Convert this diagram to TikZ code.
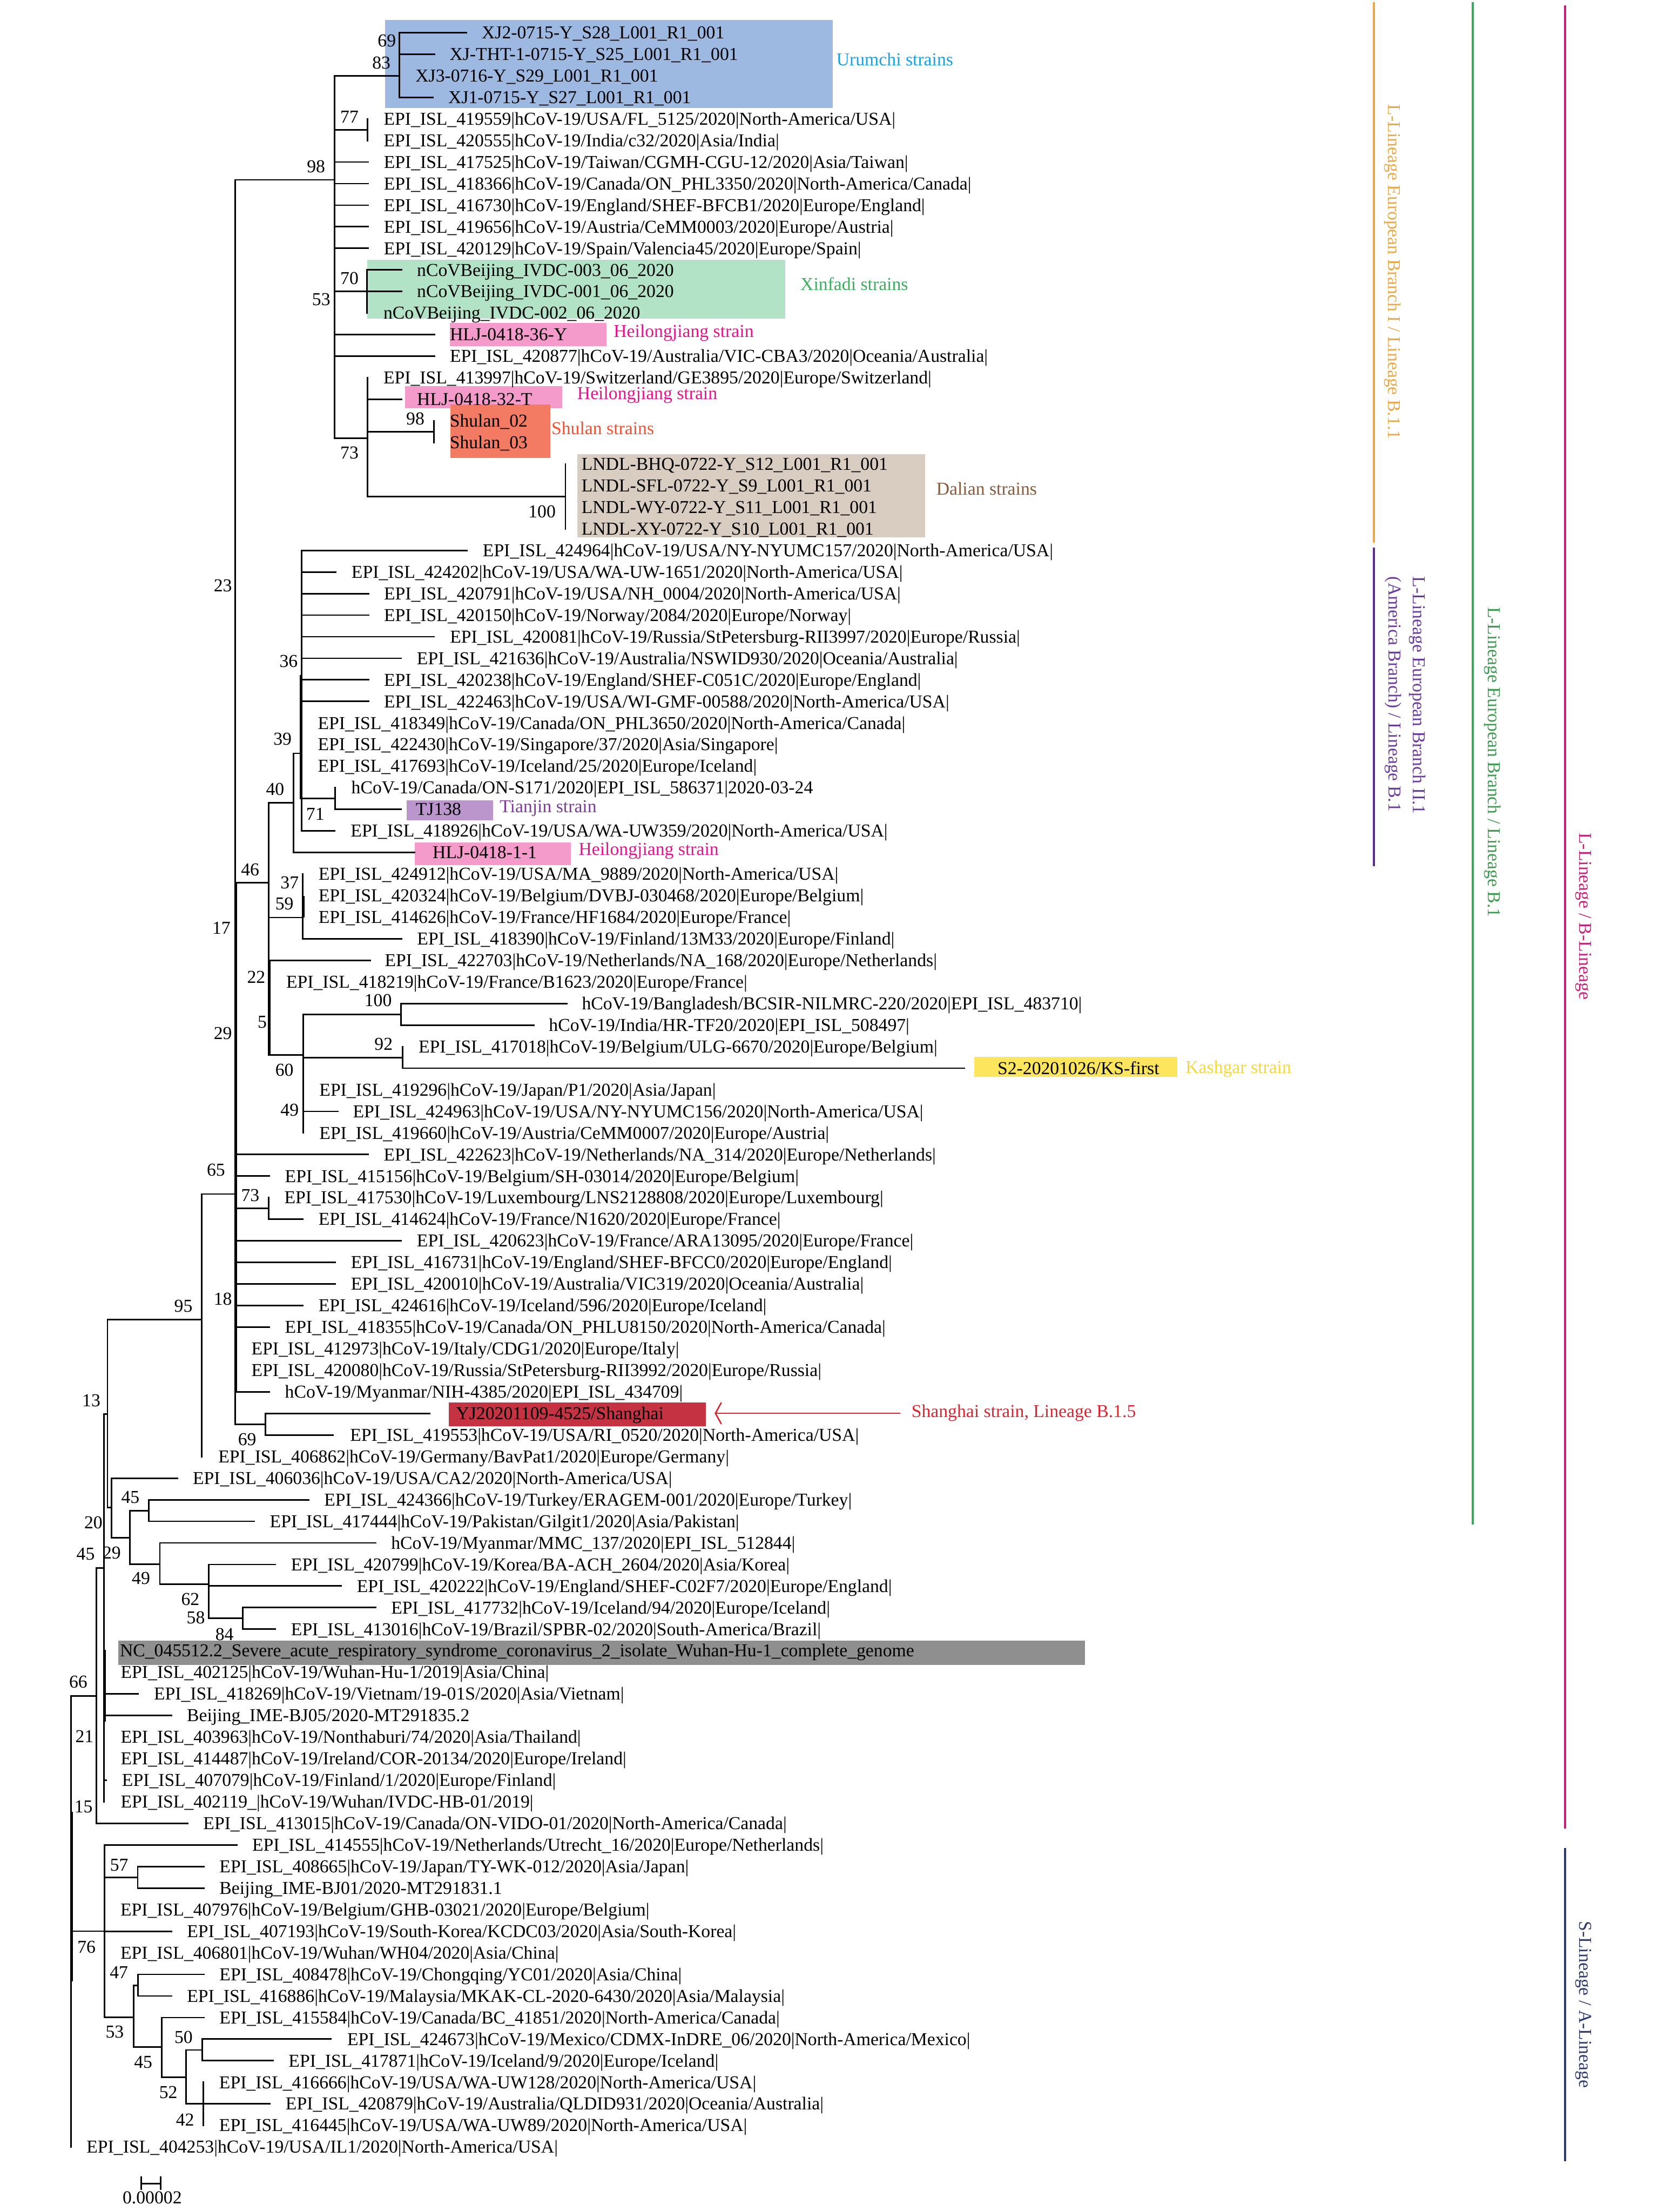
\documentclass[tikz,border=0pt]{standalone}
\usepackage{fontspec}
\setmainfont{Liberation Serif}
\definecolor{urbox}{HTML}{9DB8E1}
\definecolor{urtxt}{HTML}{1BA1DC}
\definecolor{xfbox}{HTML}{B2E3C6}
\definecolor{xftxt}{HTML}{3DAE5E}
\definecolor{hlbox}{HTML}{F59BCB}
\definecolor{hltxt}{HTML}{E2168C}
\definecolor{shbox}{HTML}{F37B63}
\definecolor{shtxt}{HTML}{EE5230}
\definecolor{dlbox}{HTML}{D9CCC1}
\definecolor{dltxt}{HTML}{8A5A3B}
\definecolor{tjbox}{HTML}{BA96CC}
\definecolor{tjtxt}{HTML}{7D3C98}
\definecolor{ksbox}{HTML}{FDE55E}
\definecolor{kstxt}{HTML}{F6D73C}
\definecolor{sgbox}{HTML}{C53343}
\definecolor{sgtxt}{HTML}{DA2532}
\definecolor{gybox}{HTML}{8F8F8F}
\definecolor{orbar}{HTML}{E8A94A}
\definecolor{pubar}{HTML}{5E2F8C}
\definecolor{putxt}{HTML}{6C3A9C}
\definecolor{grbar}{HTML}{3EA560}
\definecolor{grtxt}{HTML}{3C9B4E}
\definecolor{mgbar}{HTML}{C2227A}
\definecolor{nvbar}{HTML}{2E3A6E}
\newcommand\fs{\fontsize{12.9}{15}\selectfont}
\newcounter{svc}
\newcommand\Lf[5]{%
  \coordinate (b#1) at (#2,{ly(#1)});%
  \coordinate (e#1) at (#3,{ly(#1)});%
  \ifdim #2pt=#3pt\else\draw[br] (b#1) -- (e#1);\fi
  \node[lf] (L#1) at (#4,{ly(#1)+4.3}) {#5};}
\newcommand\Vt[3]{\draw[br] (#1,#2) -- (#1,#3);}
\newcommand\Hz[3]{\draw[br] (#1,#3) -- (#2,#3);}
\newcommand\SV[3]{\stepcounter{svc}\node[sv] (sv\arabic{svc}) at (#1,#2) {#3};}
\begin{document}
\begin{tikzpicture}[x=1pt,y=-1pt,
  declare function={ly(\n)=23.1+15.294*(\n-1);},
  br/.style={line width=1.1pt, line cap=rect},
  lf/.style={anchor=base west, inner sep=0pt, font=\fs},
  sv/.style={inner sep=0pt, font=\fs},
  cl/.style={anchor=base west, inner sep=0pt, font=\fs},
  rot/.style={rotate=-90, anchor=base west, inner sep=0pt, font=\fs},
  bar/.style={line width=1.4pt}]
\useasboundingbox[fill=white] (0,0) rectangle (1180,1568);
% ---------- highlight boxes ----------
\fill[urbox] (273.1,14.3) rectangle (590.2,76.6);
\fill[xfbox] (260.2,184) rectangle (556.7,225.9);
\fill[hlbox] (318.7,228.9) rectangle (429.8,245.5);
\fill[hlbox] (287.1,273.6) rectangle (398.6,289.4);
\fill[shbox] (319.1,286.9) rectangle (390,324.5);
\fill[dlbox] (409.4,322) rectangle (655.8,380.8);
\fill[tjbox] (288.1,567.2) rectangle (349.4,581.3);
\fill[hlbox] (293.9,597.2) rectangle (404.7,613.2);
\fill[ksbox] (690.7,749) rectangle (834.5,763.4);
\fill[sgbox] (318.1,994.3) rectangle (500.4,1011);
\fill[gybox] (83.9,1163) rectangle (769,1180.1);
% ---------- clade labels ----------
\node[cl, text=urtxt] (c1) at (592.7,46.4) {Urumchi strains};
\node[cl, text=xftxt] (c2) at (567.2,205.8) {Xinfadi strains};
\node[cl, text=hltxt] (c3) at (434.8,239) {Heilongjiang strain};
\node[cl, text=hltxt] (c4) at (409,282.9) {Heilongjiang strain};
\node[cl, text=shtxt] (c5) at (390.7,308) {Shulan strains};
\node[cl, text=dltxt] (c6) at (663.5,350.9) {Dalian strains};
\node[cl, text=tjtxt] (c7) at (354,576) {Tianjin strain};
\node[cl, text=hltxt] (c8) at (410,606.3) {Heilongjiang strain};
\node[cl, text=kstxt] (c9) at (840.2,760.9) {Kashgar strain};
\node[cl, text=sgtxt] (c10) at (645.9,1004.7) {Shanghai strain, Lineage B.1.5};
\coordinate (atip) at (507.1,1001.8);
\coordinate (atail) at (638.2,1001.8);
\draw[sgtxt, line width=1pt] (atail) -- (atip);
\draw[sgtxt, line width=1pt] (511.3,994.2) -- (atip) -- (511.3,1009.4);
% ---------- right bars ----------
\draw[bar, orbar] (973.8,1.4) -- (973.8,384.7);
\draw[bar, pubar] (973.8,388) -- (973.8,614.1);
\draw[bar, grbar] (1044,1.4) -- (1044,1080.5);
\draw[bar, mgbar] (1109.3,3.8) -- (1109.3,1296.1);
\draw[bar, nvbar] (1109.3,1309.8) -- (1109.3,1532);
\node[rot, text=orbar] (r1) at (984.1,74) {L-Lineage European Branch I / Lineage B.1.1};
\node[rot, text=putxt] (r2) at (1001.6,408.6) {L-Lineage European Branch II.1};
\node[rot, text=putxt] (r3) at (984.4,408.6) {(America Branch) / Lineage B.1};
\node[rot, text=grtxt] (r4) at (1055,430.1) {L-Lineage European Branch / Lineage B.1};
\node[rot, text=mgbar] (r5) at (1119.6,590.2) {L-Lineage / B-Lineage};
\node[rot, text=nvbar] (r6) at (1119.6,1361.6) {S-Lineage / A-Lineage};
% ---------- leaves ----------
\Lf{1}{283.2}{330.5}{341.3}{XJ2-0715-Y\_S28\_L001\_R1\_001}
\Lf{2}{283.2}{307.9}{318.5}{XJ-THT-1-0715-Y\_S25\_L001\_R1\_001}
\Lf{3}{237}{283.2}{294.3}{XJ3-0716-Y\_S29\_L001\_R1\_001}
\Lf{4}{283.2}{306.9}{317.6}{XJ1-0715-Y\_S27\_L001\_R1\_001}
\Lf{5}{260.6}{260.6}{271.8}{EPI\_ISL\_419559|hCoV-19/USA/FL\_5125/2020|North-America/USA|}
\Lf{6}{260.6}{260.6}{271.8}{EPI\_ISL\_420555|hCoV-19/India/c32/2020|Asia/India|}
\Lf{7}{237}{261}{271.9}{EPI\_ISL\_417525|hCoV-19/Taiwan/CGMH-CGU-12/2020|Asia/Taiwan|}
\Lf{8}{237}{261}{271.9}{EPI\_ISL\_418366|hCoV-19/Canada/ON\_PHL3350/2020|North-America/Canada|}
\Lf{9}{237}{261}{271.9}{EPI\_ISL\_416730|hCoV-19/England/SHEF-BFCB1/2020|Europe/England|}
\Lf{10}{237}{261}{271.9}{EPI\_ISL\_419656|hCoV-19/Austria/CeMM0003/2020|Europe/Austria|}
\Lf{11}{237}{261}{271.9}{EPI\_ISL\_420129|hCoV-19/Spain/Valencia45/2020|Europe/Spain|}
\Lf{12}{260.2}{284.7}{295.4}{nCoVBeijing\_IVDC-003\_06\_2020}
\Lf{13}{237}{284.7}{295.4}{nCoVBeijing\_IVDC-001\_06\_2020}
\Lf{14}{260.2}{260.2}{271.6}{nCoVBeijing\_IVDC-002\_06\_2020}
\Lf{15}{237}{307.9}{318.7}{HLJ-0418-36-Y}
\Lf{16}{237}{307.9}{318.7}{EPI\_ISL\_420877|hCoV-19/Australia/VIC-CBA3/2020|Oceania/Australia|}
\Lf{17}{260.6}{260.6}{271.6}{EPI\_ISL\_413997|hCoV-19/Switzerland/GE3895/2020|Europe/Switzerland|}
\Lf{18}{260.6}{284.7}{295.4}{HLJ-0418-32-T}
\Lf{19}{307.5}{307.5}{318.6}{Shulan\_02}
\Lf{20}{307.5}{307.5}{318.6}{Shulan\_03}
\Lf{21}{400.8}{400.8}{412}{LNDL-BHQ-0722-Y\_S12\_L001\_R1\_001}
\Lf{22}{400.8}{400.8}{412}{LNDL-SFL-0722-Y\_S9\_L001\_R1\_001}
\Lf{23}{400.8}{400.8}{412}{LNDL-WY-0722-Y\_S11\_L001\_R1\_001}
\Lf{24}{400.8}{400.8}{412}{LNDL-XY-0722-Y\_S10\_L001\_R1\_001}
\Lf{25}{213.8}{331.1}{342}{EPI\_ISL\_424964|hCoV-19/USA/NY-NYUMC157/2020|North-America/USA|}
\Lf{26}{213.8}{238}{249}{EPI\_ISL\_424202|hCoV-19/USA/WA-UW-1651/2020|North-America/USA|}
\Lf{27}{213.8}{261.2}{272}{EPI\_ISL\_420791|hCoV-19/USA/NH\_0004/2020|North-America/USA|}
\Lf{28}{213.8}{261.2}{272}{EPI\_ISL\_420150|hCoV-19/Norway/2084/2020|Europe/Norway|}
\Lf{29}{213.8}{307.8}{318.8}{EPI\_ISL\_420081|hCoV-19/Russia/StPetersburg-RII3997/2020|Europe/Russia|}
\Lf{30}{213.8}{284.4}{295.3}{EPI\_ISL\_421636|hCoV-19/Australia/NSWID930/2020|Oceania/Australia|}
\Lf{31}{213.8}{261.2}{272}{EPI\_ISL\_420238|hCoV-19/England/SHEF-C051C/2020|Europe/England|}
\Lf{32}{213.8}{261.2}{272}{EPI\_ISL\_422463|hCoV-19/USA/WI-GMF-00588/2020|North-America/USA|}
\Lf{33}{213.8}{213.8}{225.1}{EPI\_ISL\_418349|hCoV-19/Canada/ON\_PHL3650/2020|North-America/Canada|}
\Lf{34}{213.8}{213.8}{225.1}{EPI\_ISL\_422430|hCoV-19/Singapore/37/2020|Asia/Singapore|}
\Lf{35}{213.8}{213.8}{225.1}{EPI\_ISL\_417693|hCoV-19/Iceland/25/2020|Europe/Iceland|}
\Lf{36}{237.5}{237.5}{248.9}{hCoV-19/Canada/ON-S171/2020|EPI\_ISL\_586371|2020-03-24}
\Lf{37}{237.5}{284.2}{294.5}{TJ138}
\Lf{38}{213.8}{237.1}{248.4}{EPI\_ISL\_418926|hCoV-19/USA/WA-UW359/2020|North-America/USA|}
\Lf{39}{208}{293.9}{306.5}{HLJ-0418-1-1}
\Lf{40}{214.5}{214.5}{225.6}{EPI\_ISL\_424912|hCoV-19/USA/MA\_9889/2020|North-America/USA|}
\Lf{41}{214.5}{214.5}{225.6}{EPI\_ISL\_420324|hCoV-19/Belgium/DVBJ-030468/2020|Europe/Belgium|}
\Lf{42}{214.5}{214.5}{225.6}{EPI\_ISL\_414626|hCoV-19/France/HF1684/2020|Europe/France|}
\Lf{43}{214.5}{284.8}{295.5}{EPI\_ISL\_418390|hCoV-19/Finland/13M33/2020|Europe/Finland|}
\Lf{44}{190.6}{262.3}{272.6}{EPI\_ISL\_422703|hCoV-19/Netherlands/NA\_168/2020|Europe/Netherlands|}
\Lf{45}{190.6}{190.6}{202.7}{EPI\_ISL\_418219|hCoV-19/France/B1623/2020|Europe/France|}
\Lf{46}{284.4}{401.6}{412.3}{hCoV-19/Bangladesh/BCSIR-NILMRC-220/2020|EPI\_ISL\_483710|}
\Lf{47}{284.4}{378.3}{388.9}{hCoV-19/India/HR-TF20/2020|EPI\_ISL\_508497|}
\Lf{48}{285.5}{285.5}{296.5}{EPI\_ISL\_417018|hCoV-19/Belgium/ULG-6670/2020|Europe/Belgium|}
\Lf{49}{285.5}{683.4}{706.9}{S2-20201026/KS-first}
\Lf{50}{215}{215}{226.2}{EPI\_ISL\_419296|hCoV-19/Japan/P1/2020|Asia/Japan|}
\Lf{51}{215}{239.3}{250}{EPI\_ISL\_424963|hCoV-19/USA/NY-NYUMC156/2020|North-America/USA|}
\Lf{52}{215}{215}{226.2}{EPI\_ISL\_419660|hCoV-19/Austria/CeMM0007/2020|Europe/Austria|}
\Lf{53}{166.6}{260.8}{271.8}{EPI\_ISL\_422623|hCoV-19/Netherlands/NA\_314/2020|Europe/Netherlands|}
\Lf{54}{166.6}{190.9}{201.8}{EPI\_ISL\_415156|hCoV-19/Belgium/SH-03014/2020|Europe/Belgium|}
\Lf{55}{190.3}{190.3}{201.4}{EPI\_ISL\_417530|hCoV-19/Luxembourg/LNS2128808/2020|Europe/Luxembourg|}
\Lf{56}{190.3}{214.6}{225.6}{EPI\_ISL\_414624|hCoV-19/France/N1620/2020|Europe/France|}
\Lf{57}{166.6}{284.4}{295.3}{EPI\_ISL\_420623|hCoV-19/France/ARA13095/2020|Europe/France|}
\Lf{58}{166.6}{237.6}{248.6}{EPI\_ISL\_416731|hCoV-19/England/SHEF-BFCC0/2020|Europe/England|}
\Lf{59}{166.6}{237.6}{248.6}{EPI\_ISL\_420010|hCoV-19/Australia/VIC319/2020|Oceania/Australia|}
\Lf{60}{166.6}{214.6}{225.6}{EPI\_ISL\_424616|hCoV-19/Iceland/596/2020|Europe/Iceland|}
\Lf{61}{166.6}{190.9}{201.8}{EPI\_ISL\_418355|hCoV-19/Canada/ON\_PHLU8150/2020|North-America/Canada|}
\Lf{62}{166.6}{166.6}{178}{EPI\_ISL\_412973|hCoV-19/Italy/CDG1/2020|Europe/Italy|}
\Lf{63}{166.6}{166.6}{178}{EPI\_ISL\_420080|hCoV-19/Russia/StPetersburg-RII3992/2020|Europe/Russia|}
\Lf{64}{166.6}{190.9}{201.8}{hCoV-19/Myanmar/NIH-4385/2020|EPI\_ISL\_434709|}
\Lf{65}{188.1}{304.7}{323.1}{YJ20201109-4525/Shanghai}
\Lf{66}{188.1}{236.1}{248}{EPI\_ISL\_419553|hCoV-19/USA/RI\_0520/2020|North-America/USA|}
\Lf{67}{143}{143}{154.6}{EPI\_ISL\_406862|hCoV-19/Germany/BavPat1/2020|Europe/Germany|}
\Lf{68}{78.9}{125.6}{136.5}{EPI\_ISL\_406036|hCoV-19/USA/CA2/2020|North-America/USA|}
\Lf{69}{105.5}{218.7}{229.6}{EPI\_ISL\_424366|hCoV-19/Turkey/ERAGEM-001/2020|Europe/Turkey|}
\Lf{70}{105.5}{180.2}{191.1}{EPI\_ISL\_417444|hCoV-19/Pakistan/Gilgit1/2020|Asia/Pakistan|}
\Lf{71}{113.3}{266.2}{277.1}{hCoV-19/Myanmar/MMC\_137/2020|EPI\_ISL\_512844|}
\Lf{72}{147.9}{195.2}{206.1}{EPI\_ISL\_420799|hCoV-19/Korea/BA-ACH\_2604/2020|Asia/Korea|}
\Lf{73}{147.9}{241.9}{252.8}{EPI\_ISL\_420222|hCoV-19/England/SHEF-C02F7/2020|Europe/England|}
\Lf{74}{172}{266.2}{277.1}{EPI\_ISL\_417732|hCoV-19/Iceland/94/2020|Europe/Iceland|}
\Lf{75}{172}{195.2}{206.1}{EPI\_ISL\_413016|hCoV-19/Brazil/SPBR-02/2020|South-America/Brazil|}
\Lf{76}{73.7}{73.7}{84.8}{NC\_045512.2\_Severe\_acute\_respiratory\_syndrome\_coronavirus\_2\_isolate\_Wuhan-Hu-1\_complete\_genome}
\Lf{77}{73.7}{73.7}{85.4}{EPI\_ISL\_402125|hCoV-19/Wuhan-Hu-1/2019|Asia/China|}
\Lf{78}{73.7}{98}{108.9}{EPI\_ISL\_418269|hCoV-19/Vietnam/19-01S/2020|Asia/Vietnam|}
\Lf{79}{73.7}{121.4}{132.3}{Beijing\_IME-BJ05/2020-MT291835.2}
\Lf{80}{73.7}{73.7}{85.4}{EPI\_ISL\_403963|hCoV-19/Nonthaburi/74/2020|Asia/Thailand|}
\Lf{81}{73.7}{73.7}{85.4}{EPI\_ISL\_414487|hCoV-19/Ireland/COR-20134/2020|Europe/Ireland|}
\Lf{82}{73.7}{75.4}{86.3}{EPI\_ISL\_407079|hCoV-19/Finland/1/2020|Europe/Finland|}
\Lf{83}{73.7}{73.7}{85.4}{EPI\_ISL\_402119\_|hCoV-19/Wuhan/IVDC-HB-01/2019|}
\Lf{84}{68.3}{133}{143.9}{EPI\_ISL\_413015|hCoV-19/Canada/ON-VIDO-01/2020|North-America/Canada|}
\Lf{85}{74.2}{167.7}{178.6}{EPI\_ISL\_414555|hCoV-19/Netherlands/Utrecht\_16/2020|Europe/Netherlands|}
\Lf{86}{97.6}{144.5}{155.4}{EPI\_ISL\_408665|hCoV-19/Japan/TY-WK-012/2020|Asia/Japan|}
\Lf{87}{97.6}{144.5}{155.4}{Beijing\_IME-BJ01/2020-MT291831.1}
\Lf{88}{74.2}{74.2}{85.2}{EPI\_ISL\_407976|hCoV-19/Belgium/GHB-03021/2020|Europe/Belgium|}
\Lf{89}{74.2}{121.5}{132.4}{EPI\_ISL\_407193|hCoV-19/South-Korea/KCDC03/2020|Asia/South-Korea|}
\Lf{90}{74.2}{74.2}{85.2}{EPI\_ISL\_406801|hCoV-19/Wuhan/WH04/2020|Asia/China|}
\Lf{91}{97.8}{144.5}{155.4}{EPI\_ISL\_408478|hCoV-19/Chongqing/YC01/2020|Asia/China|}
\Lf{92}{97.8}{121.5}{132.4}{EPI\_ISL\_416886|hCoV-19/Malaysia/MKAK-CL-2020-6430/2020|Asia/Malaysia|}
\Lf{93}{114.6}{144.5}{155.4}{EPI\_ISL\_415584|hCoV-19/Canada/BC\_41851/2020|North-America/Canada|}
\Lf{94}{143.4}{234.4}{246}{EPI\_ISL\_424673|hCoV-19/Mexico/CDMX-InDRE\_06/2020|North-America/Mexico|}
\Lf{95}{143.4}{193.5}{204.4}{EPI\_ISL\_417871|hCoV-19/Iceland/9/2020|Europe/Iceland|}
\Lf{96}{144}{144}{155.2}{EPI\_ISL\_416666|hCoV-19/USA/WA-UW128/2020|North-America/USA|}
\Lf{97}{131.8}{191.4}{202.3}{EPI\_ISL\_420879|hCoV-19/Australia/QLDID931/2020|Oceania/Australia|}
\Lf{98}{144}{144}{155.2}{EPI\_ISL\_416445|hCoV-19/USA/WA-UW89/2020|North-America/USA|}
\Lf{99}{50.3}{50.3}{61.2}{EPI\_ISL\_404253|hCoV-19/USA/IL1/2020|North-America/USA|}
% ---------- internal branches ----------
% L-lineage top clade
\Vt{283.2}{{ly(1)}}{{ly(4)}}
\Vt{260.6}{{ly(5)}}{{ly(6)}}
\Hz{237}{260.6}{91.95}
\Vt{260.2}{{ly(12)}}{{ly(14)}}
\Vt{307.5}{{ly(19)}}{{ly(20)}}
\Hz{260.6}{307.5}{306.05}
\Vt{400.8}{{ly(21)}}{{ly(24)}}
\Hz{260.6}{400.8}{351.95}
\Vt{260.6}{{ly(17)}}{351.95}
\Hz{237}{260.6}{310.5}
\Vt{237}{{ly(3)}}{310.5}
\Hz{166.6}{237}{127.5}
% node 36 group
\Vt{213.8}{{ly(25)}}{{ly(38)}}
\draw[br] (213.0,479) -- (213.0,566);
\Vt{237.5}{{ly(36)}}{{ly(37)}}
\Hz{213.8}{237.5}{566.05}
\Hz{208}{213.8}{534}
\Vt{208}{534}{{ly(39)}}
\Hz{190.6}{208}{569.2}
\Vt{214.5}{{ly(40)}}{{ly(43)}}
\draw[br] (215.2,635.7) -- (215.2,650);
\Hz{190.6}{214.5}{650.4}
\Vt{190.6}{569.2}{747.9}
\draw[br] (191.4,681) -- (191.4,747.9);
\Hz{166.6}{190.6}{625.7}
\Vt{284.4}{{ly(46)}}{{ly(47)}}
\Hz{215}{284.4}{719.0}
\Vt{285.5}{{ly(48)}}{{ly(49)}}
\Hz{215}{285.5}{749.6}
\Vt{215}{719.0}{{ly(52)}}
\Hz{190.6}{215}{747.9}
\Hz{215}{239.3}{{ly(51)}}
% main polytomy
\Vt{190.3}{{ly(55)}}{{ly(56)}}
\Hz{166.6}{190.3}{856.65}
\Vt{188.1}{{ly(65)}}{{ly(66)}}
\Hz{166.6}{188.1}{1009.6}
\Vt{166.6}{127.5}{1009.6}
\draw[br] (167.6,625.7) -- (167.6,986.7);
\Hz{143}{166.6}{846.4}
\Vt{143}{846.4}{{ly(67)}}
\Hz{76.2}{143}{935.5}
% lower L-lineage
\Vt{105.5}{{ly(69)}}{{ly(70)}}
\Hz{91.9}{105.5}{1070.75}
\Vt{172}{{ly(74)}}{{ly(75)}}
\Hz{147.9}{172}{1147.25}
\Vt{147.9}{{ly(72)}}{1147.25}
\Hz{113.3}{147.9}{1123}
\Vt{113.3}{{ly(71)}}{1123}
\Hz{91.9}{113.3}{1108.7}
\Vt{91.9}{1070.75}{1108.7}
\Hz{78.9}{91.9}{1090}
\Vt{78.9}{{ly(68)}}{1090}
\Hz{76.2}{78.9}{1068.5}
\Vt{76.2}{935.5}{1068.5}
\Hz{73.7}{76.2}{1002.3}
\Vt{73.7}{1002.3}{{ly(83)}}
\draw[br] (74.5,1170) -- (74.5,1220);
\Hz{68.3}{73.7}{1111.5}
\Vt{68.3}{1111.5}{{ly(84)}}
\Hz{50.3}{68.3}{1202.3}
% S-lineage
\Vt{97.6}{{ly(86)}}{{ly(87)}}
\Hz{74.2}{97.6}{1330.75}
\Vt{97.8}{{ly(91)}}{{ly(92)}}
\Hz{94.6}{97.8}{1407.25}
\Vt{143.4}{{ly(94)}}{{ly(95)}}
\Hz{131.8}{143.4}{1453.15}
\Vt{144}{{ly(96)}}{{ly(98)}}
\Vt{131.8}{1453.15}{{ly(97)}}
\Hz{114.6}{131.8}{1472.6}
\Vt{114.6}{{ly(93)}}{1472.6}
\Hz{94.6}{114.6}{1451.1}
\Vt{94.6}{1407.25}{1451.1}
\Hz{74.2}{94.6}{1429.9}
\Vt{74.2}{{ly(85)}}{1429.9}
\Hz{50.3}{74.2}{1368.9}
\Vt{50.3}{1202.3}{{ly(99)}}
\draw[br] (51.1,1285) -- (51.1,1404);
% ---------- support values ----------
\SV{274.2}{28.9}{69}
\SV{270.3}{44.7}{83}
\SV{247.7}{82.8}{77}
\SV{224}{118}{98}
\SV{247.7}{197.5}{70}
\SV{227.7}{212.1}{53}
\SV{294.4}{296.9}{98}
\SV{247.7}{320.8}{73}
\SV{384.2}{362.7}{100}
\SV{158}{415}{23}
\SV{204.6}{468.8}{36}
\SV{200.3}{524}{39}
\SV{195}{559.4}{40}
\SV{223.5}{577}{71}
\SV{177.3}{616.5}{46}
\SV{205.3}{625.7}{37}
\SV{201.6}{640.6}{59}
\SV{156.9}{658}{17}
\SV{181.6}{692.7}{22}
\SV{268}{709}{100}
\SV{185.9}{724.7}{5}
\SV{158}{732.6}{29}
\SV{271.9}{740}{92}
\SV{201.6}{758.4}{60}
\SV{205.3}{787}{49}
\SV{153.1}{829.3}{65}
\SV{177.4}{847.5}{73}
\SV{158}{921}{18}
\SV{130}{925.8}{95}
\SV{175.2}{1020.4}{69}
\SV{64.7}{992.7}{13}
\SV{92.4}{1061.2}{45}
\SV{66.2}{1079.4}{20}
\SV{60.7}{1101.4}{45}
\SV{79.2}{1100.7}{29}
\SV{99.95}{1118.8}{49}
\SV{134.9}{1133.6}{62}
\SV{138.8}{1146.6}{58}
\SV{159.1}{1158.4}{84}
\SV{55.5}{1192.4}{66}
\SV{59.9}{1231}{21}
\SV{59.2}{1280.7}{15}
\SV{84.5}{1322}{57}
\SV{61.3}{1380.1}{76}
\SV{84.3}{1398}{47}
\SV{81.3}{1440.3}{53}
\SV{130.1}{1444.1}{50}
\SV{101.5}{1461.8}{45}
\SV{119.3}{1483}{52}
\SV{131.2}{1502.5}{42}
% ---------- scale bar ----------
\coordinate (sb1) at (100,1547.9);
\coordinate (sb2) at (114,1547.9);
\draw[br] (sb1) -- (sb2);
\draw[br] (100,1543.2) -- (100,1551.7);
\draw[br] (114,1543.2) -- (114,1551.7);
\node[sv] (sbl) at (107.9,1557.7) {0.00002};
\end{tikzpicture}
\end{document}
